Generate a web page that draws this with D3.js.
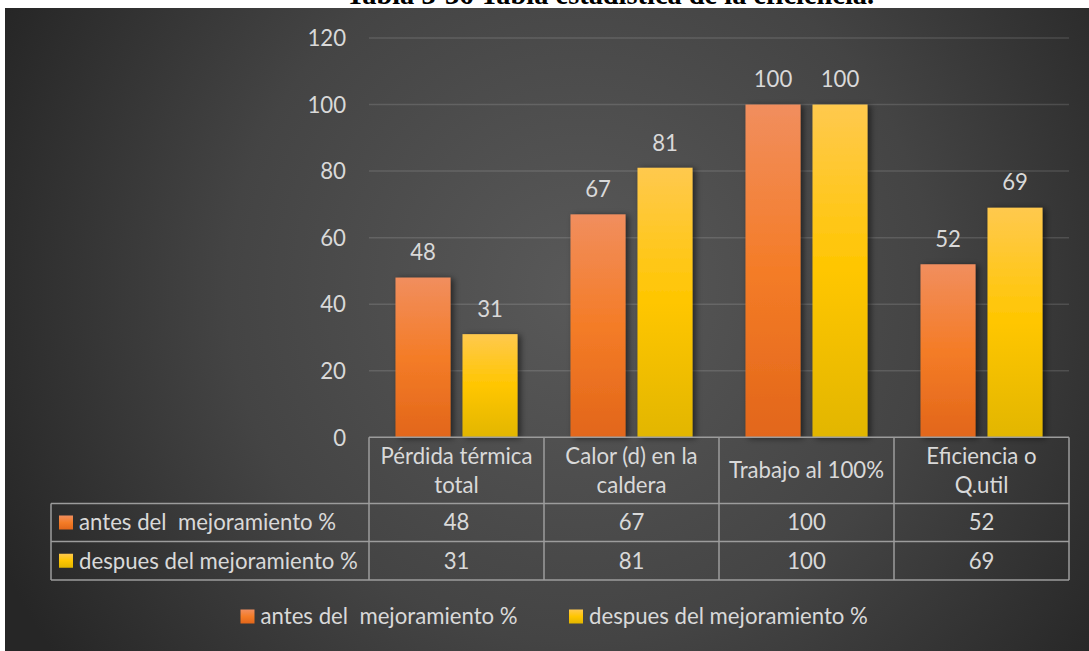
<!DOCTYPE html>
<html><head><meta charset="utf-8">
<script src="https://cdn.jsdelivr.net/npm/d3@7"></script>
<style>
html,body{margin:0;padding:0;background:#fff;}
svg{display:block;}
</style></head>
<body>
<svg id="chart" width="1089" height="651"></svg>
<script>
// ---- data ----
const categories = ["Pérdida térmica total", "Calor (d) en la caldera", "Trabajo al 100%", "Eficiencia o Q.util"];
const categoryLines = [["Pérdida térmica", "total"], ["Calor (d) en la", "caldera"], ["Trabajo al 100%"], ["Eficiencia o", "Q.util"]];
const seriesNames = ["antes del  mejoramiento %", "despues del mejoramiento %"];
const antes = [48, 67, 100, 52];
const despues = [31, 81, 100, 69];
const yTicks = [0, 20, 40, 60, 80, 100, 120];
const titleBold = "Tabla 3-36";
const titleRest = " Tabla estadística de la eficiencia.";

// ---- layout ----
const W = 1089, H = 651;
const plotL = 369, plotR = 1069, plotT = 38, plotB = 437.3;
const tableRows = [437.3, 503.5, 541.5, 580];
const tableLeft = 51;
const FONT = "Lato, 'Open Sans', sans-serif";
const FS = 22.2;
const TXT = "#D9D9D9";

const svg = d3.select("#chart");
const defs = svg.append("defs");

const bg = defs.append("radialGradient").attr("id", "bg")
  .attr("gradientUnits", "userSpaceOnUse").attr("cx", 580).attr("cy", 290).attr("r", 640);
bg.append("stop").attr("offset", 0).attr("stop-color", "#595959");
bg.append("stop").attr("offset", 0.55).attr("stop-color", "#444444");
bg.append("stop").attr("offset", 1).attr("stop-color", "#262626");

const grads = [
  ["gOrange", ["#F18E5E", "#F47C27", "#E2661A"]],
  ["gYellow", ["#FFC94E", "#FFC600", "#E2B600"]]
];
grads.forEach(([id, c]) => {
  const g = defs.append("linearGradient").attr("id", id).attr("x1", 0).attr("y1", 0).attr("x2", 0).attr("y2", 1);
  g.append("stop").attr("offset", 0).attr("stop-color", c[0]);
  g.append("stop").attr("offset", 0.5).attr("stop-color", c[1]);
  g.append("stop").attr("offset", 1).attr("stop-color", c[2]);
});
const sh = defs.append("filter").attr("id", "shadow").attr("x", "-30%").attr("y", "-10%").attr("width", "160%").attr("height", "120%");
sh.append("feDropShadow").attr("dx", 3).attr("dy", 1).attr("stdDeviation", 3)
  .attr("flood-color", "#000").attr("flood-opacity", 0.55);

// background
svg.append("rect").attr("x", 0).attr("y", 0).attr("width", W).attr("height", H).attr("fill", "#fff");
svg.append("rect").attr("x", 5).attr("y", 8).attr("width", W - 5).attr("height", H - 8).attr("fill", "url(#bg)");

// title (clipped at top of page, as in the source)
const title = svg.append("text").attr("x", 610).attr("y", 4).attr("text-anchor", "middle")
  .attr("font-family", "'Liberation Serif', 'Times New Roman', serif").attr("font-size", 28.4).attr("fill", "#000");
title.append("tspan").attr("font-weight", "bold").text(titleBold);
title.append("tspan").attr("font-weight", "bold").text(titleRest);

// scales
const y = d3.scaleLinear().domain([0, 120]).range([plotB, plotT]);
const x0 = d3.scaleBand().domain(categories).range([plotL, plotR]).paddingInner(0).paddingOuter(0);
const outer = 53;
const x1 = d3.scaleBand().domain(seriesNames).range([outer / 2, x0.bandwidth() - outer / 2])
  .paddingInner(12 / 67).paddingOuter(0);
const fills = ["url(#gOrange)", "url(#gYellow)"];

// gridlines
svg.append("g").selectAll("line").data(yTicks.filter(d => d > 0)).join("line")
  .attr("x1", plotL).attr("x2", plotR)
  .attr("y1", d => y(d)).attr("y2", d => y(d))
  .attr("stroke", "rgba(255,255,255,0.13)").attr("stroke-width", 1.5);

// y axis
const yAxis = d3.axisLeft(y).tickValues(yTicks).tickSize(0).tickPadding(0);
const ya = svg.append("g").attr("transform", `translate(346,0)`).call(yAxis);
ya.select(".domain").remove();
ya.selectAll("text").attr("font-family", FONT).attr("font-size", FS).attr("fill", TXT).attr("dy", "0.35em");

// bars
const seriesData = [antes, despues];
const bars = [];
categories.forEach((c, i) => seriesData.forEach((s, j) => bars.push({ c, s: seriesNames[j], j, v: s[i] })));
svg.append("g").selectAll("rect").data(bars).join("rect")
  .attr("x", d => x0(d.c) + x1(d.s)).attr("width", x1.bandwidth())
  .attr("y", d => y(d.v)).attr("height", d => y(0) - y(d.v))
  .attr("fill", d => fills[d.j]).attr("filter", "url(#shadow)");

// data labels
svg.append("g").selectAll("text").data(bars).join("text")
  .attr("x", d => x0(d.c) + x1(d.s) + x1.bandwidth() / 2)
  .attr("y", d => y(d.v) - 25).attr("dy", "0.35em")
  .attr("text-anchor", "middle").attr("font-family", FONT).attr("font-size", FS).attr("fill", TXT)
  .text(d => d.v);

// data table
const tg = svg.append("g").attr("stroke", "#9C9C9C").attr("stroke-width", 1.5).attr("fill", "none");
tg.append("line").attr("x1", plotL).attr("x2", plotR).attr("y1", tableRows[0]).attr("y2", tableRows[0]);
tableRows.slice(1).forEach(r => tg.append("line").attr("x1", tableLeft).attr("x2", plotR).attr("y1", r).attr("y2", r));
tg.append("line").attr("x1", tableLeft).attr("x2", tableLeft).attr("y1", tableRows[1]).attr("y2", tableRows[3]);
categories.map(c => x0(c)).concat([plotR]).forEach(xx =>
  tg.append("line").attr("x1", xx).attr("x2", xx).attr("y1", tableRows[0]).attr("y2", tableRows[3]));

// header
const hdr = svg.append("g").attr("font-family", FONT).attr("font-size", FS).attr("fill", TXT).attr("text-anchor", "middle");
categories.forEach((c, i) => {
  const lines = categoryLines[i];
  const cy = (tableRows[0] + tableRows[1]) / 2;
  const lh = 29;
  lines.forEach((ln, k) => {
    hdr.append("text").attr("x", x0(c) + x0.bandwidth() / 2)
      .attr("y", cy + (k - (lines.length - 1) / 2) * lh).attr("dy", "0.35em").text(ln);
  });
});
// values + row keys
seriesData.forEach((s, j) => {
  const cy = (tableRows[j + 1] + tableRows[j + 2]) / 2;
  hdr.selectAll(null).data(s).join("text")
    .attr("x", (d, i) => x0(categories[i]) + x0.bandwidth() / 2)
    .attr("y", cy).attr("dy", "0.35em").text(d => d);
  svg.append("rect").attr("x", 59).attr("y", cy - 7).attr("width", 14).attr("height", 14).attr("fill", fills[j]);
  svg.append("text").attr("x", 79).attr("y", cy).attr("dy", "0.35em")
    .attr("font-family", FONT).attr("font-size", FS).attr("fill", TXT).style("white-space", "pre").text(seriesNames[j]);
});

// legend
const legX = [240.5, 569];
seriesNames.forEach((n, j) => {
  svg.append("rect").attr("x", legX[j]).attr("y", 609.5).attr("width", 14).attr("height", 14).attr("fill", fills[j]);
  svg.append("text").attr("x", legX[j] + 20).attr("y", 616.5).attr("dy", "0.35em")
    .attr("font-family", FONT).attr("font-size", FS).attr("fill", TXT).style("white-space", "pre").text(n);
});
</script>
</body></html>
